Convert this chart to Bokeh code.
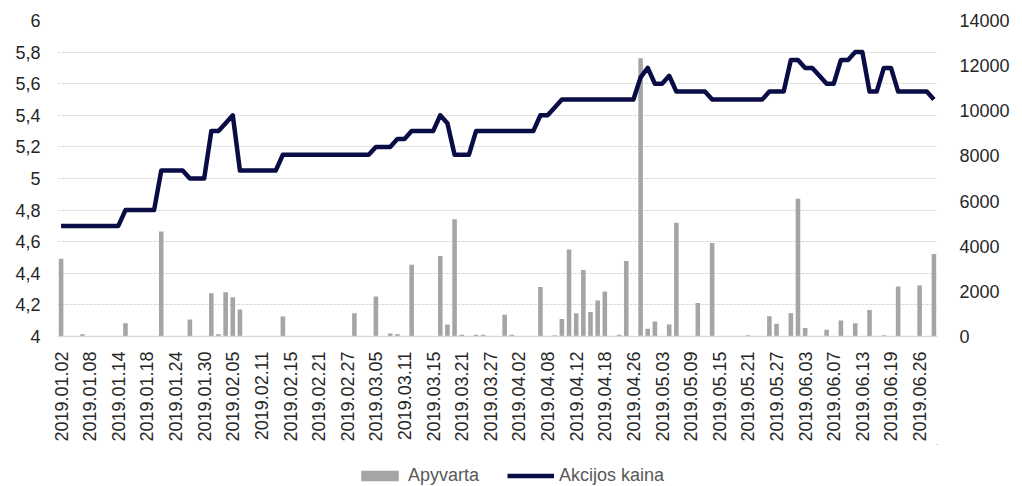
import math
from bokeh.plotting import figure
from bokeh.layouts import column
from bokeh.models import (Range1d, LinearAxis, FixedTicker, CustomJSTickFormatter,
                          Legend, LegendItem, ColumnDataSource)
from bokeh.embed import file_html
from bokeh.resources import INLINE

# trading days (categories)
jan = ["02","03","04","07","08","09","10","11","14","15","16","17","18","21","22","23","24","25","28","29","30","31"]
feb = ["01","04","05","06","07","08","11","12","13","14","15","18","19","20","21","22","25","26","27","28"]
mar = ["01","04","05","06","07","08","11","12","13","14","15","18","19","20","21","22","25","26","27","28","29"]
apr = ["01","02","03","04","05","08","09","10","11","12","15","16","17","18","23","24","25","26","29","30"]
may = ["02","03","06","07","08","09","10","13","14","15","16","17","20","21","22","23","24","27","28","29","30"]
jun = ["03","04","05","06","07","10","11","12","13","14","17","18","19","20","21","25","26","27","28"]
dates = ([f"2019.01.{d}" for d in jan] + [f"2019.02.{d}" for d in feb] +
         [f"2019.03.{d}" for d in mar] + [f"2019.04.{d}" for d in apr] +
         [f"2019.05.{d}" for d in may] + [f"2019.06.{d}" for d in jun])

# Apyvarta (turnover)
volume = [
    3450, 0, 0, 100, 0, 0, 0, 0, 0, 590,
    0, 0, 0, 0, 4650, 0, 0, 0, 750, 0,
    0, 1920, 100, 1960, 1740, 1200, 0, 0, 0, 0,
    0, 890, 0, 0, 0, 0, 0, 0, 0, 0,
    0, 1030, 0, 0, 1770, 0, 130, 100, 0, 3180,
    0, 0, 0, 3570, 530, 5200, 80, 0, 80, 80,
    0, 0, 960, 80, 0, 0, 0, 2190, 0, 50,
    770, 3850, 1030, 2950, 1090, 1600, 1990, 0, 80, 3350,
    0, 12330, 340, 670, 0, 530, 5040, 0, 0, 1480,
    0, 4140, 0, 0, 0, 0, 50, 0, 0, 900,
    560, 0, 1030, 6100, 380, 0, 0, 300, 0, 710,
    0, 590, 0, 1170, 0, 50, 0, 2220, 0, 0,
    2260, 0, 3660,
]

# Akcijos kaina (share price)
price = [
    4.70, 4.70, 4.70, 4.70, 4.70, 4.70, 4.70, 4.70, 4.70, 4.80,
    4.80, 4.80, 4.80, 4.80, 5.05, 5.05, 5.05, 5.05, 5.00, 5.00,
    5.00, 5.30, 5.30, 5.35, 5.40, 5.05, 5.05, 5.05, 5.05, 5.05,
    5.05, 5.15, 5.15, 5.15, 5.15, 5.15, 5.15, 5.15, 5.15, 5.15,
    5.15, 5.15, 5.15, 5.15, 5.20, 5.20, 5.20, 5.25, 5.25, 5.30,
    5.30, 5.30, 5.30, 5.40, 5.35, 5.15, 5.15, 5.15, 5.30, 5.30,
    5.30, 5.30, 5.30, 5.30, 5.30, 5.30, 5.30, 5.40, 5.40, 5.45,
    5.50, 5.50, 5.50, 5.50, 5.50, 5.50, 5.50, 5.50, 5.50, 5.50,
    5.50, 5.64, 5.70, 5.60, 5.60, 5.65, 5.55, 5.55, 5.55, 5.55,
    5.55, 5.50, 5.50, 5.50, 5.50, 5.50, 5.50, 5.50, 5.50, 5.55,
    5.55, 5.55, 5.75, 5.75, 5.70, 5.70, 5.65, 5.60, 5.60, 5.75,
    5.75, 5.80, 5.80, 5.55, 5.55, 5.70, 5.70, 5.55, 5.55, 5.55,
    5.55, 5.55, 5.50,
]

left_ticks = [4.0, 4.2, 4.4, 4.6, 4.8, 5.0, 5.2, 5.4, 5.6, 5.8, 6.0]
right_ticks = [0, 2000, 4000, 6000, 8000, 10000, 12000, 14000]

BAR = "#A5A5A5"
LINE = "#0A0C45"
TXT = "#262626"
GRID = "#D9D9D9"
FONT = "Liberation Sans"
FS = "18px"

idx = list(range(len(dates)))
src = ColumnDataSource(dict(x=idx, date=dates, vol=volume, price=price))

p = figure(frame_width=880, frame_height=316, output_backend="svg", toolbar_location=None,
           x_range=Range1d(-0.5, len(dates) - 0.5), y_range=Range1d(4, 6),
           min_border_left=57, min_border_right=85, min_border_top=20, min_border_bottom=0,
           y_axis_location=None, x_axis_location=None)
p.outline_line_color = None
p.background_fill_color = "white"
p.border_fill_color = "white"
p.extra_y_ranges = {"vol": Range1d(0, 14000)}

# grid
p.xgrid.visible = False
p.ygrid.ticker = FixedTicker(ticks=left_ticks)
p.ygrid.grid_line_color = GRID
p.ygrid.grid_line_width = 1
p.ygrid.grid_line_dash = "3 1"

bars = p.vbar(x="x", top="vol", width=0.64, source=src, y_range_name="vol",
              fill_color=BAR, line_color=None)
line = p.line(x="x", y="price", source=src, line_color=LINE, line_width=4.5,
              line_join="round")

def style(ax):
    ax.major_tick_line_color = None
    ax.minor_tick_line_color = None
    ax.major_tick_out = 0
    ax.major_tick_in = 0
    ax.minor_tick_out = 0
    ax.major_label_text_font = FONT
    ax.major_label_text_font_size = FS
    ax.major_label_text_color = TXT

# left axis
la = LinearAxis(ticker=FixedTicker(ticks=left_ticks),
                formatter=CustomJSTickFormatter(code="return (Math.round(tick*10)/10).toString().replace('.', ',');"))
style(la)
la.axis_line_color = None
la.major_label_standoff = 17
p.add_layout(la, "left")

# right axis
ra = LinearAxis(y_range_name="vol", ticker=FixedTicker(ticks=right_ticks),
                formatter=CustomJSTickFormatter(code="return tick.toFixed(0);"))
style(ra)
ra.axis_line_color = None
ra.major_label_standoff = 22
p.add_layout(ra, "right")

# bottom axis
tick_pos = idx[::4]
ba = LinearAxis(ticker=FixedTicker(ticks=tick_pos),
                major_label_overrides={i: dates[i] for i in tick_pos})
style(ba)
ba.axis_line_color = GRID
ba.axis_line_width = 1.5
ba.major_label_orientation = math.pi / 2
ba.major_label_standoff = 15
p.add_layout(ba, "below")

# legend strip below the chart (same series, ranges placed so no mark is in view)
lf = figure(width=1022, height=44, output_backend="svg", toolbar_location=None,
            x_range=Range1d(-1000, -999), y_range=Range1d(-1000, -999), min_border=0,
            x_axis_location=None, y_axis_location=None)
lf.outline_line_color = None
lf.xgrid.visible = False
lf.ygrid.visible = False
lf.background_fill_color = "white"
lf.border_fill_color = "white"
lbars = lf.vbar(x="x", top="vol", width=0.64, source=src, fill_color=BAR, line_color=None)
lline = lf.line(x="x", y="price", source=src, line_color=LINE, line_width=4.5)

legend = Legend(items=[LegendItem(label="Apyvarta", renderers=[lbars]),
                       LegendItem(label="Akcijos kaina", renderers=[lline])],
                orientation="horizontal", location=(299, 2))
legend.label_text_font = FONT
legend.label_text_font_size = FS
legend.label_text_color = "#595959"
legend.glyph_width = 47
legend.glyph_height = 13
legend.label_standoff = 5
legend.spacing = 28
legend.padding = 2
legend.margin = 0
legend.border_line_color = None
legend.background_fill_alpha = 0
lf.add_layout(legend, "center")

layout = column(p, lf, spacing=0)
open("out.html", "w").write(file_html(layout, INLINE))
